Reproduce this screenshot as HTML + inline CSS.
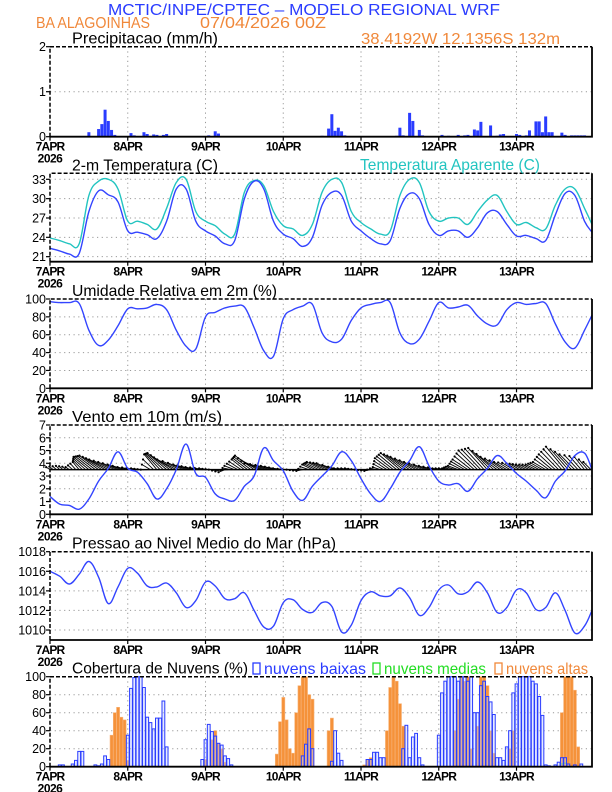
<!DOCTYPE html>
<html><head><meta charset="utf-8"><style>
html,body{margin:0;padding:0;background:#fff;}
svg{display:block;font-family:"Liberation Sans",sans-serif;}
</style></head><body>
<svg id="chart" width="612" height="792" viewBox="0 0 612 792" xmlns="http://www.w3.org/2000/svg">
<text x="108" y="15" font-size="16" fill="#2a3cff" textLength="392" lengthAdjust="spacingAndGlyphs">MCTIC/INPE/CPTEC – MODELO REGIONAL WRF</text>
<text x="36" y="28" font-size="16" fill="#f0883a" textLength="114" lengthAdjust="spacingAndGlyphs">BA ALAGOINHAS</text>
<text x="200" y="28" font-size="16" fill="#f0883a" textLength="126" lengthAdjust="spacingAndGlyphs">07/04/2026 00Z</text>
<text x="361" y="44" font-size="16" fill="#f0883a" textLength="199" lengthAdjust="spacingAndGlyphs">38.4192W 12.1356S 132m</text>
<g id="plots"></g>
</svg>
<script>
// ---- data (hours since 07APR 00Z) ----
const hours3 = [0,3,6,9,12,15,18,21,24,27,30,33,36,39,42,45,48,51,54,57,60,63,66,69,72,75,78,81,84,87,90,93,96,99,102,105,108,111,114,117,120,123,126,129,132,135,138,141,144,147,150,153,156,159,162,165,168];
const dayLabels = ["7APR","8APR","9APR","10APR","11APR","12APR","13APR"];
const precipHours = [12,15,16,17,18,19,20,25,26,29,30,32,33,35,36,49,51,52,84,86,87,88,89,90,91,107,108,109,111,112,114,115,121,123,126,128,129,131,132,133,136,138,139,140,144,145,147,148,150,151,152,153,154,155,158,159,161,162,163,164,165];
const precipVals  = [0.1,0.17,0.28,0.6,0.35,0.15,0.04,0.08,0.03,0.1,0.06,0.05,0.04,0.04,0.06,0.03,0.12,0.07,0.02,0.18,0.5,0.13,0.2,0.12,0.03,0.02,0.2,0.03,0.53,0.35,0.15,0.03,0.04,0.02,0.04,0.03,0.04,0.16,0.14,0.33,0.25,0.02,0.05,0.06,0.06,0.04,0.03,0.14,0.34,0.34,0.1,0.45,0.1,0.1,0.09,0.04,0.03,0.03,0.03,0.03,0.03];
const temp2m = [22.3,21.9,21.4,21.5,28,31.2,30.6,29.5,25.0,24.8,24.4,23.8,26.5,31.5,31.5,26.5,25.0,24.2,23.0,23.5,30,32.7,31.5,26.5,24.5,23.8,22.6,24,29,31,30.5,26.5,25,23.8,23,23.5,28.5,30.8,30,26,24.3,25,25,24,25.5,27.8,28,26,24.2,24.3,23.8,23.5,27.5,30.8,30.5,26.5,24.8];
const tempApar = [23.9,23.5,23,23,30.5,32.7,33,31.5,26.5,26.5,26,25.3,28.5,32.5,33,28,26.5,25.8,24.5,24.5,31,32.8,32,28,25.8,25.3,24.3,26,31,33,32.5,28,26.3,25.3,24.5,25,30.5,33,32.5,28,26.5,27,27,26,28,29.8,30.5,28,26,26.3,25.5,25.3,29,31.5,31.5,28.5,26];
const relHum = [97,96,96,95,65,48,54,70,89,89,90,94,88,65,47,44,80,85,90,92,91,68,42,36,78,88,92,94,62,52,55,76,90,94,96,96,62,50,55,75,96,90,91,93,81,72,71,88,96,94,95,95,72,52,45,65,82];
const windSpd = [1.4,0.8,0.7,0.4,1.2,2.6,3.6,4.9,3.6,3.3,2.4,1.2,2.0,3.5,5.5,3.2,2.9,1.6,1.2,1.1,2.2,3.0,5.2,4.2,3.4,1.8,1.1,2.2,3.0,3.8,4.9,4.2,2.8,1.6,1.0,2.0,3.3,4.2,5.3,3.8,2.6,2.3,2.4,1.8,2.8,3.6,4.6,4.0,3.2,2.6,1.9,1.3,2.6,3.4,4.6,4.8,3.5];
const barbU = [-0.3,-0.3,-0.3,-0.5,-1.2,-1.5,-1.5,-1.2,-0.8,-0.5,-0.5,-1.0,-1.5,-1.5,-1.0,-0.8,-0.5,-0.5,-0.5,-0.8,-1.0,-1.5,-1.5,-1.0,-0.8,-0.5,-0.5,-0.8,-1.2,-1.2,-0.6,-0.5,-0.5,-0.5,-0.6,-1.2,-1.5,-1.5,-1.2,-0.8,-0.5,-0.5,-0.8,-1.2,-1.5,-1.5,-1.3,-1.0,-0.8,-0.8,-0.8,-1.0,-1.3,-1.5,-1.2,-0.8,-0.5];
const barbV = [0.2,0.3,0.2,0.6,1.0,1.1,0.8,0.5,0.2,0.1,0.0,1.2,1.3,0.8,0.4,0.2,0.1,0.0,-0.2,0.3,0.8,1.1,0.5,0.3,0.1,0.0,-0.1,0.4,0.6,0.5,0.1,0.1,0.0,-0.1,0.2,0.9,1.3,1.0,0.6,0.3,0.1,0.1,0.3,0.8,1.5,1.7,1.0,0.6,0.5,0.4,0.4,0.6,1.2,1.8,1.2,1.0,0.4];
const pressure = [1016.0,1015.5,1014.7,1015.7,1017.0,1015.4,1012.7,1014.4,1016.3,1015.8,1014.5,1014.4,1014.8,1013.8,1012.3,1013.0,1014.9,1014.5,1013.2,1013.2,1013.8,1012.0,1010.3,1010.4,1012.8,1013.1,1012.1,1011.8,1012.8,1012.4,1009.8,1010.5,1013.0,1013.9,1013.5,1013.5,1014.3,1013.3,1011.5,1012.3,1014.1,1014.6,1013.7,1013.9,1014.9,1013.8,1011.8,1012.3,1014.1,1013.8,1012.1,1012.3,1013.8,1012.0,1009.7,1010.4,1012.0];
const lowHours = [3,4,7,8,9,10,14,15,16,17,18,24,25,26,27,28,29,30,31,32,33,34,35,36,47,48,49,50,51,52,53,54,55,56,78,79,80,81,87,88,89,90,98,99,100,101,102,103,109,110,111,112,113,114,115,120,121,122,123,124,125,126,127,128,129,130,131,132,133,134,135,136,137,138,139,140,141,142,143,144,145,146,147,148,149,150,151,152,153,154,156,157,158,159,160,162,164];
const lowVals  = [2,2,3,7,17,17,2,1,3,12,8,35,87,99,100,100,88,55,49,42,54,54,73,22,8,30,47,39,34,26,24,12,9,2,12,25,42,20,6,40,15,7,8,8,16,16,10,10,20,46,10,33,37,10,2,35,82,95,100,100,100,95,100,100,95,100,60,60,90,95,78,72,58,10,10,7,22,40,82,92,100,100,100,100,95,92,78,57,2,1,2,5,10,10,3,2,3];
const midHours = [158,159];
const midVals  = [3,4];
const highHours = [19,20,21,22,23,24,48,50,51,52,53,54,70,71,72,73,74,75,76,77,78,79,80,81,86,87,97,98,99,104,105,106,107,108,109,125,126,127,128,129,130,132,133,134,135,136,137,142,143,158,159,160,161,162,163];
const highVals  = [35,60,66,55,52,7,8,30,40,26,20,5,14,50,77,52,20,15,60,90,100,100,80,75,40,54,2,8,10,40,88,100,95,70,45,40,75,100,95,100,20,45,100,100,90,40,15,20,40,60,100,100,100,85,22];

// ---- drawing ----
const NS = "http://www.w3.org/2000/svg";
const plots = document.getElementById("plots");
const X0 = 50, X1 = 592, HMAX = 167.3;
function xs(h){ return X0 + h*(X1-X0)/HMAX; }
function mk(tag, attrs, parent){
  const e = document.createElementNS(NS, tag);
  for (const k in attrs) e.setAttribute(k, attrs[k]);
  (parent||plots).appendChild(e);
  return e;
}
function makePanel(p){
  const g = mk("g", {});
  
  
  const ys = v => p.bottom - (v - p.min)/(p.max - p.min)*(p.bottom - p.top);
  for (let d=1; d<7; d++){
    const gl = mk("line", {x1:xs(d*24), x2:xs(d*24), y1:p.top, y2:p.bottom, stroke:"#999", "stroke-width":1, "stroke-dasharray":"1.2,3.5"}, g);
    
    
  }
  p.ticks.forEach(t=>{
    const yy = ys(t);
    if (yy > p.top+1 && yy < p.bottom-1){
      const gl = mk("line", {x1:X0, x2:X1, y1:yy, y2:yy, stroke:"#999", "stroke-width":1, "stroke-dasharray":"1.2,3.5"}, g);
      
      
    }
    const tk = mk("line", {x1:X0-4, x2:X0, y1:yy, y2:yy, stroke:"#000", "stroke-width":1.2}, g);
    
    
    const tl = mk("text", {x:X0-4, y:yy+4.5, "font-size":12.5, "text-anchor":"end", fill:"#000"}, g);
    
    
    tl.textContent = t;
  });
  for (let d=0; d<7; d++){
    const xx = xs(d*24);
    const tk = mk("line", {x1:xx, x2:xx, y1:p.bottom, y2:p.bottom+4, stroke:"#000", "stroke-width":1.2}, g);
    
    
    const tl = mk("text", {x:xx, y:p.bottom+14, "font-size":12, "text-anchor":"middle", "font-weight":"bold", "letter-spacing":"-0.8", fill:"#000"}, g);
    
    
    tl.textContent = dayLabels[d];
  }
  const yr = mk("text", {x:X0, y:p.bottom+26, "font-size":12, "text-anchor":"middle", "font-weight":"bold", "letter-spacing":"-0.5", fill:"#000"}, g);
  
  
  yr.textContent = "2026";
  const tt = mk("text", {x:72, y:p.top-3, "font-size":16, fill:"#000", textLength:p.titleW, lengthAdjust:"spacingAndGlyphs"}, g);
  
  
  tt.textContent = p.title;
  p.g = g; p.ys = ys;
  return p;
}
function frame(p){
  const g = p.g;
  const f1 = mk("path", {d:`M${X0},${p.bottom} V${p.top} H${X1}`, fill:"none", stroke:"#000", "stroke-width":1.5, "stroke-dasharray":"4,2"}, g);
  
  
  const f2 = mk("path", {d:`M${X1},${p.top} V${p.bottom} H${X0}`, fill:"none", stroke:"#000", "stroke-width":1.8}, g);
  
  
}
function linePath(p, vals, color, name){
  const pts = vals.map((v,i)=>[xs(Math.min(hours3[i], HMAX)), p.ys(v)]);
  let d = "M" + pts[0][0].toFixed(1) + "," + pts[0][1].toFixed(1);
  const t = 0.18;
  for (let i=0;i<pts.length-1;i++){
    const p0 = pts[Math.max(i-1,0)], p1 = pts[i], p2 = pts[i+1], p3 = pts[Math.min(i+2,pts.length-1)];
    const c1x = p1[0] + (p2[0]-p0[0])*t, c1y = p1[1] + (p2[1]-p0[1])*t;
    const c2x = p2[0] - (p3[0]-p1[0])*t, c2y = p2[1] - (p3[1]-p1[1])*t;
    d += `C${c1x.toFixed(1)},${c1y.toFixed(1)} ${c2x.toFixed(1)},${c2y.toFixed(1)} ${p2[0].toFixed(1)},${p2[1].toFixed(1)}`;
  }
  const l = mk("path", {d:d, fill:"none", stroke:color, "stroke-width":1.4, "stroke-linejoin":"round"}, p.g);
  
  
}

// Panel 1: precip
const P1 = makePanel({name:"precip-panel", top:46.7, bottom:136.7, min:0, max:2, ticks:[0,1,2], title:"Precipitacao (mm/h)", titleW:146});
precipHours.forEach((h,i)=>{
  const y = P1.ys(precipVals[i]);
  const b = mk("rect", {x:xs(h)-1.5, y:y, width:3, height:P1.bottom-y, fill:"#2a3cff"}, P1.g);
  
  
});
frame(P1);

// Panel 2: temperature
const P2 = makePanel({name:"temperature-panel", top:173.3, bottom:261.7, min:20.22, max:33.93, ticks:[21,24,27,30,33], title:"2-m Temperatura (C)", titleW:146});
linePath(P2, tempApar, "#22c4c0", "apparent-temperature-line");
linePath(P2, temp2m, "#3344ff", "temperature-line");
frame(P2);
const lg2 = mk("text", {x:360, y:170, "font-size":16, fill:"#22c4c0", textLength:180, lengthAdjust:"spacingAndGlyphs"}, P2.g);


lg2.textContent = "Temperatura Aparente (C)";

// Panel 3: RH
const P3 = makePanel({name:"humidity-panel", top:299, bottom:388.3, min:0, max:100, ticks:[0,20,40,60,80,100], title:"Umidade Relativa em 2m (%)", titleW:205});
linePath(P3, relHum, "#3344ff", "humidity-line");
frame(P3);

// Panel 4: wind
const P4 = makePanel({name:"wind-panel", top:425, bottom:514.3, min:0, max:7, ticks:[0,1,2,3,4,5,6,7], title:"Vento em 10m (m/s)", titleW:150});
const ppu4 = (P4.bottom-P4.top)/7;
const baseY = P4.ys(3.5);
for (let h=0; h<=167; h++){
  const i = Math.min(Math.floor(h/3), hours3.length-2);
  const f = (h - hours3[i])/3;
  const u = barbU[i] + (barbU[i+1]-barbU[i])*f;
  const v = barbV[i] + (barbV[i+1]-barbV[i])*f;
  const bx = xs(h), tx = bx + u*ppu4, ty = baseY - v*ppu4;
  const ln = mk("line", {x1:bx, y1:baseY, x2:tx, y2:ty, stroke:"#000", "stroke-width":0.9}, P4.g);
  
  
  const hd = mk("circle", {cx:tx, cy:ty, r:1.1, fill:"#000"}, P4.g);
  
  
}
const bl = mk("line", {x1:X0, x2:X1, y1:baseY, y2:baseY, stroke:"#000", "stroke-width":1.5}, P4.g);


linePath(P4, windSpd, "#3344ff", "wind-speed-line");
frame(P4);

// Panel 5: pressure
const P5 = makePanel({name:"pressure-panel", top:551.7, bottom:640, min:1008.98, max:1018, ticks:[1010,1012,1014,1016,1018], title:"Pressao ao Nivel Medio do Mar (hPa)", titleW:264});
linePath(P5, pressure, "#3344ff", "pressure-line");
frame(P5);

// Panel 6: clouds
const P6 = makePanel({name:"cloud-panel", top:676.7, bottom:766.7, min:0, max:100, ticks:[0,20,40,60,80,100], title:"Cobertura de Nuvens (%)", titleW:176});
highHours.forEach((h,i)=>{
  const y = P6.ys(highVals[i]);
  const b = mk("rect", {x:xs(h)-1.5, y:y, width:3.1, height:P6.bottom-y, fill:"#f5923a", stroke:"#f8b47a", "stroke-width":0.6}, P6.g);
  
  
});
midHours.forEach((h,i)=>{
  const y = P6.ys(midVals[i]);
  const b = mk("rect", {x:xs(h)-1.5, y:y, width:3, height:P6.bottom-y, fill:"none", stroke:"#22cc22", "stroke-width":1}, P6.g);
  
  
});
lowHours.forEach((h,i)=>{
  const y = P6.ys(lowVals[i]);
  const b = mk("rect", {x:xs(h)-1.4, y:y, width:2.8, height:P6.bottom-y, fill:"rgba(200,210,255,0.45)", stroke:"#2a3cff", "stroke-width":1}, P6.g);
  
  
});
frame(P6);
const legends = [["nuvens baixas","#2a3cff",252,102,"legend-low-clouds"],["nuvens medias","#22dd22",372,102,"legend-mid-clouds"],["nuvens altas","#f0883a",494,82,"legend-high-clouds"]];
legends.forEach(L=>{
  const lg = mk("g", {}, P6.g);
  
  
  const sw = mk("rect", {x:L[2]+1, y:663, width:7, height:11, fill:"none", stroke:L[1], "stroke-width":1.3}, lg);
  
  
  const tx = mk("text", {x:L[2]+12, y:674, "font-size":16, fill:L[1], textLength:L[3], lengthAdjust:"spacingAndGlyphs"}, lg);
  
  
  tx.textContent = L[0];
});
</script>
</body></html>
